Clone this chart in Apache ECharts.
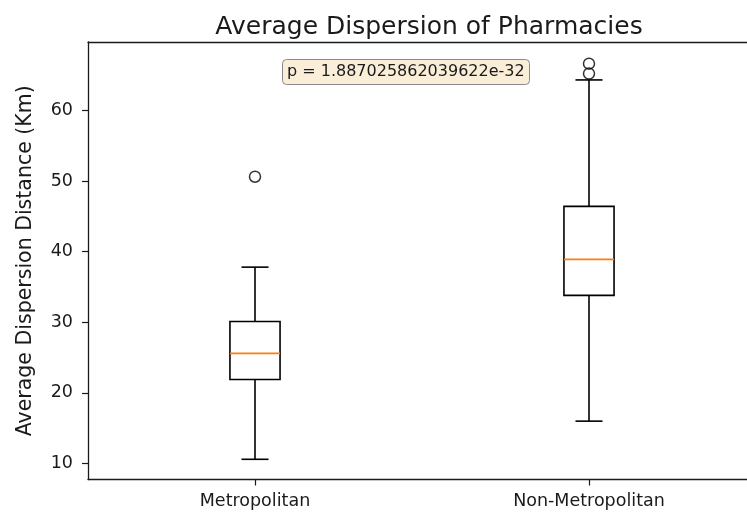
<!DOCTYPE html>
<html>
<head>
<meta charset="utf-8">
<script src="https://cdn.jsdelivr.net/npm/echarts@6/dist/echarts.min.js"></script>
<style>html,body{margin:0;padding:0;background:#fff;}#c{width:747px;height:517px;}</style>
</head>
<body>
<div id="c"></div>
<script>
var categories = ['Metropolitan', 'Non-Metropolitan'];
var minVals = [10.6, 16.0];
var q1Vals = [21.9, 33.8];
var medianVals = [25.6, 38.9];
var q3Vals = [30.1, 46.4];
var maxVals = [37.8, 64.3];
var outlierCat = [0, 1, 1];
var outlierVals = [50.6, 65.2, 66.6];
var yTicks = [10, 20, 30, 40, 50, 60];
var pText = 'p = 1.887025862039622e-32';

var boxData = categories.map(function (c, i) {
  return [i, minVals[i], q1Vals[i], medianVals[i], q3Vals[i], maxVals[i]];
});
var outlierData = outlierVals.map(function (v, i) { return [outlierCat[i], v]; });

var chart = echarts.init(document.getElementById('c'), null, {renderer: 'canvas'});
var FONT = 'DejaVu Sans';
var option = {
  animation: false,
  backgroundColor: '#fff',
  title: [{
    text: 'Average Dispersion of Pharmacies',
    left: 424, top: 10, textAlign: 'center',
    textStyle: {fontFamily: FONT, fontSize: 25, fontWeight: 'normal', color: '#1a1a1a'}
  }, {
    text: pText,
    left: 282, top: 59,
    padding: [5, 5],
    backgroundColor: '#faeed9',
    borderColor: '#8a8a8a', borderWidth: 1, borderRadius: 4,
    textStyle: {fontFamily: FONT, fontSize: 16, fontWeight: 'normal', color: '#1a1a1a'}
  }],
  grid: {left: 88, top: 42, width: 668, height: 437.5, outerBoundsMode: 'none', containLabel: false, show: false},
  xAxis: [{
    type: 'category', data: categories, boundaryGap: true, position: 'bottom',
    axisLine: {show: true, onZero: false, lineStyle: {color: '#1a1a1a', width: 1.3}},
    axisTick: {show: true, alignWithLabel: true, length: 6, lineStyle: {color: '#1a1a1a', width: 1.2}},
    axisLabel: {fontFamily: FONT, fontSize: 17.5, color: '#1a1a1a', margin: 13},
    splitLine: {show: false}
  }, {
    type: 'category', data: categories, boundaryGap: true, position: 'top',
    axisLine: {show: true, onZero: false, lineStyle: {color: '#1a1a1a', width: 1.3}},
    axisTick: {show: false}, axisLabel: {show: false}, splitLine: {show: false}
  }],
  yAxis: {
    type: 'value', min: 7.74, max: 69.67,
    name: 'Average Dispersion Distance (Km)', nameLocation: 'middle', nameGap: 52,
    nameTextStyle: {fontFamily: FONT, fontSize: 20.5, color: '#1a1a1a'},
    axisLine: {show: true, onZero: false, lineStyle: {color: '#1a1a1a', width: 1.3}},
    axisTick: {show: true, length: 6, customValues: yTicks, lineStyle: {color: '#1a1a1a', width: 1.2}},
    axisLabel: {fontFamily: FONT, fontSize: 17.5, color: '#1a1a1a', margin: 15, customValues: yTicks},
    splitLine: {show: false}
  },
  series: [{
    type: 'custom',
    data: boxData,
    encode: {x: 0, y: [1, 2, 3, 4, 5]},
    renderItem: function (params, api) {
      var idx = api.value(0);
      var band = api.size([1, 0])[0];
      var bw = band * 0.15;
      var cw = bw * 0.54;
      var pMin = api.coord([idx, api.value(1)]);
      var pQ1 = api.coord([idx, api.value(2)]);
      var pMed = api.coord([idx, api.value(3)]);
      var pQ3 = api.coord([idx, api.value(4)]);
      var pMax = api.coord([idx, api.value(5)]);
      var x = pMin[0];
      var st = {stroke: '#000', lineWidth: 1.6, fill: null};
      return {
        type: 'group',
        children: [
          {type: 'line', shape: {x1: x, y1: pQ1[1], x2: x, y2: pMin[1]}, style: st},
          {type: 'line', shape: {x1: x, y1: pQ3[1], x2: x, y2: pMax[1]}, style: st},
          {type: 'line', shape: {x1: x - cw / 2, y1: pMin[1], x2: x + cw / 2, y2: pMin[1]}, style: st},
          {type: 'line', shape: {x1: x - cw / 2, y1: pMax[1], x2: x + cw / 2, y2: pMax[1]}, style: st},
          {type: 'rect', shape: {x: x - bw / 2, y: pQ3[1], width: bw, height: pQ1[1] - pQ3[1]}, style: st},
          {type: 'line', shape: {x1: x - bw / 2, y1: pMed[1], x2: x + bw / 2, y2: pMed[1]}, style: {stroke: '#ff7f0e', lineWidth: 1.6}}
        ]
      };
    }
  }, {
    type: 'scatter',
    data: outlierData,
    symbol: 'circle', symbolSize: 11,
    itemStyle: {color: 'rgba(0,0,0,0)', borderColor: '#000', borderWidth: 1.5}
  }]
};
chart.setOption(option);
</script>
</body>
</html>
